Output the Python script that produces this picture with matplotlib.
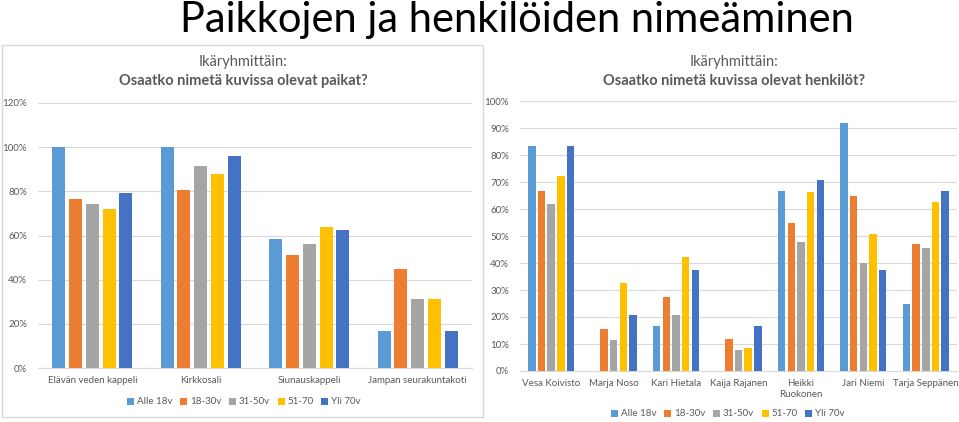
import numpy as np
import matplotlib.pyplot as plt
from matplotlib.patches import Rectangle

# Data
ryhmat = ['Alle 18v', '18-30v', '31-50v', '51-70', 'Yli 70v']
varit = ['#5B9BD5', '#ED7D31', '#A5A5A5', '#FFC000', '#4472C4']

paikat = ['Elävän veden kappeli', 'Kirkkosali', 'Siunauskappeli', 'Jampan seurakuntakoti']
paikat_arvot = [
    [100, 100, 58.3, 16.7],   # Alle 18v
    [76.5, 80.5, 51.0, 45.0],  # 18-30v
    [74.3, 91.5, 56.3, 31.3],  # 31-50v
    [72.2, 88.0, 63.9, 31.3],  # 51-70
    [79.2, 96.2, 62.5, 16.7],  # Yli 70v
]

henkilot = ['Vesa Koivisto', 'Marja Noso', 'Kari Hietala', 'Kaija Rajanen',
            'Heikki\nRuokonen', 'Jari Niemi', 'Tarja Seppänen']
henkilot_arvot = [
    [83.3, 0, 16.7, 0, 66.7, 91.7, 25.0],
    [66.7, 15.6, 27.3, 11.9, 55.0, 64.8, 47.1],
    [62.0, 11.4, 20.8, 7.6, 47.6, 40.0, 45.7],
    [72.2, 32.5, 42.1, 8.5, 66.3, 50.7, 62.7],
    [83.3, 20.8, 37.5, 16.7, 70.8, 37.5, 66.7],
]

plt.rcParams['font.family'] = ['Lato', 'DejaVu Sans']
harmaa = '#595959'
viiva = '#D9D9D9'

W, H = 959, 422
fig = plt.figure(figsize=(W / 100, H / 100), dpi=100)


def fx(x):
    return x / W


def fy(y):
    return 1 - y / H


def piirra(ax, kategoriat, arvot, ymax, ystep):
    x = np.arange(len(kategoriat))
    leveys = 0.12
    askel = 0.155
    for i, (nimi, vari) in enumerate(zip(ryhmat, varit)):
        ax.bar(x + (i - 2) * askel, arvot[i], width=leveys, color=vari, label=nimi, zorder=3)
    ax.set_xlim(-0.5, len(kategoriat) - 0.5)
    ax.set_ylim(0, ymax)
    ax.set_yticks(np.arange(0, ymax + 0.1, ystep))
    ax.set_yticklabels([f'{int(v)}%' for v in np.arange(0, ymax + 0.1, ystep)])
    ax.set_xticks(x)
    ax.set_xticklabels(kategoriat)
    ax.grid(axis='y', color=viiva, linewidth=0.8, zorder=0)
    for s in ['top', 'right', 'left']:
        ax.spines[s].set_visible(False)
    ax.spines['bottom'].set_color(viiva)
    ax.tick_params(axis='both', length=0, colors=harmaa, labelsize=7)
    ax.tick_params(axis='y', pad=8)
    ax.tick_params(axis='x', pad=6)


# Left chart
ax1 = fig.add_axes([fx(38), fy(368), fx(434), (368 - 103) / H])
piirra(ax1, paikat, paikat_arvot, 120, 20)
fig.patches.append(Rectangle((fx(2), fy(417)), fx(481), (417 - 45) / H,
                             transform=fig.transFigure, fill=False,
                             edgecolor=viiva, linewidth=1))
fig.text(fx(243), fy(62), 'Ikäryhmittäin:', ha='center', va='center',
         fontsize=10.5, color=harmaa)
fig.text(fx(243), fy(81), 'Osaatko nimetä kuvissa olevat paikat?', ha='center',
         va='center', fontsize=10.5, color=harmaa, fontweight='bold')
ax1.legend(loc='center', bbox_to_anchor=(fx(244), fy(402)),
           bbox_transform=fig.transFigure, ncol=5, frameon=False, fontsize=7,
           handlelength=0.7, handleheight=0.7, handletextpad=0.3,
           columnspacing=0.8, labelcolor=harmaa)

# Right chart
ax2 = fig.add_axes([fx(520), fy(371), fx(437), (371 - 101) / H])
piirra(ax2, henkilot, henkilot_arvot, 100, 10)
fig.text(fx(734), fy(62), 'Ikäryhmittäin:', ha='center', va='center',
         fontsize=10.5, color=harmaa)
fig.text(fx(734), fy(81), 'Osaatko nimetä kuvissa olevat henkilöt?', ha='center',
         va='center', fontsize=10.5, color=harmaa, fontweight='bold')
ax2.legend(loc='center', bbox_to_anchor=(fx(728), fy(414)),
           bbox_transform=fig.transFigure, ncol=5, frameon=False, fontsize=7,
           handlelength=0.7, handleheight=0.7, handletextpad=0.3,
           columnspacing=0.8, labelcolor=harmaa)

# Main title
fig.text(fx(517), fy(20), 'Paikkojen ja henkilöiden nimeäminen', ha='center',
         va='center', fontsize=30, fontweight='normal', color='black')

fig.savefig('out.png', dpi=100)
